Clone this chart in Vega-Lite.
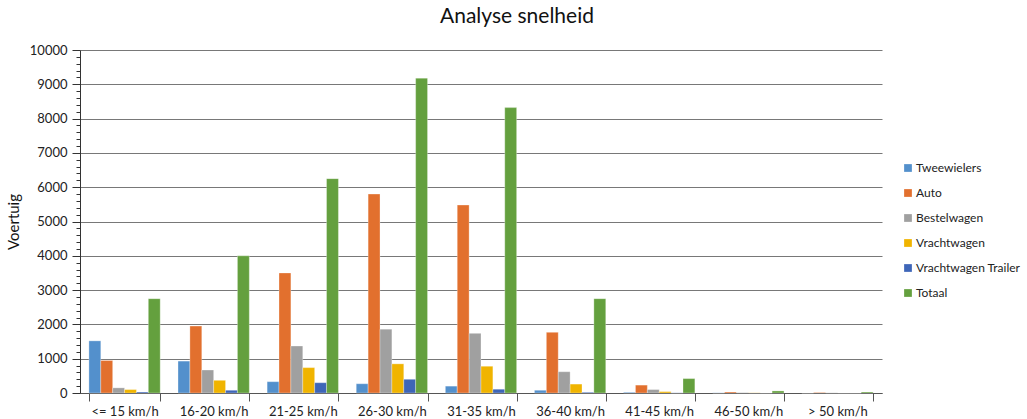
{
  "$schema": "https://vega.github.io/schema/vega-lite/v6.json",
  "autosize": {"type": "none"},
  "width": 802,
  "height": 343,
  "padding": {"left": 80, "top": 50, "right": 145, "bottom": 26},
  "background": "white",
  "title": {"text": "Analyse snelheid", "anchor": "middle", "dx": 36, "offset": 17, "fontSize": 21, "font": "Lato", "fontWeight": "normal", "color": "#111"},
  "config": {"view": {"stroke": null}, "font": "Lato"},
  "data": {"values": [
    {"cat": "<= 15 km/h", "type": "Tweewielers", "v": 1520},
    {"cat": "<= 15 km/h", "type": "Auto", "v": 950},
    {"cat": "<= 15 km/h", "type": "Bestelwagen", "v": 150},
    {"cat": "<= 15 km/h", "type": "Vrachtwagen", "v": 100},
    {"cat": "<= 15 km/h", "type": "Vrachtwagen Trailer", "v": 30},
    {"cat": "<= 15 km/h", "type": "Totaal", "v": 2750},
    {"cat": "16-20 km/h", "type": "Tweewielers", "v": 930},
    {"cat": "16-20 km/h", "type": "Auto", "v": 1950},
    {"cat": "16-20 km/h", "type": "Bestelwagen", "v": 670},
    {"cat": "16-20 km/h", "type": "Vrachtwagen", "v": 370},
    {"cat": "16-20 km/h", "type": "Vrachtwagen Trailer", "v": 80},
    {"cat": "16-20 km/h", "type": "Totaal", "v": 4000},
    {"cat": "21-25 km/h", "type": "Tweewielers", "v": 330},
    {"cat": "21-25 km/h", "type": "Auto", "v": 3500},
    {"cat": "21-25 km/h", "type": "Bestelwagen", "v": 1370},
    {"cat": "21-25 km/h", "type": "Vrachtwagen", "v": 740},
    {"cat": "21-25 km/h", "type": "Vrachtwagen Trailer", "v": 300},
    {"cat": "21-25 km/h", "type": "Totaal", "v": 6250},
    {"cat": "26-30 km/h", "type": "Tweewielers", "v": 270},
    {"cat": "26-30 km/h", "type": "Auto", "v": 5800},
    {"cat": "26-30 km/h", "type": "Bestelwagen", "v": 1860},
    {"cat": "26-30 km/h", "type": "Vrachtwagen", "v": 850},
    {"cat": "26-30 km/h", "type": "Vrachtwagen Trailer", "v": 400},
    {"cat": "26-30 km/h", "type": "Totaal", "v": 9180},
    {"cat": "31-35 km/h", "type": "Tweewielers", "v": 200},
    {"cat": "31-35 km/h", "type": "Auto", "v": 5480},
    {"cat": "31-35 km/h", "type": "Bestelwagen", "v": 1740},
    {"cat": "31-35 km/h", "type": "Vrachtwagen", "v": 780},
    {"cat": "31-35 km/h", "type": "Vrachtwagen Trailer", "v": 110},
    {"cat": "31-35 km/h", "type": "Totaal", "v": 8320},
    {"cat": "36-40 km/h", "type": "Tweewielers", "v": 80},
    {"cat": "36-40 km/h", "type": "Auto", "v": 1770},
    {"cat": "36-40 km/h", "type": "Bestelwagen", "v": 620},
    {"cat": "36-40 km/h", "type": "Vrachtwagen", "v": 260},
    {"cat": "36-40 km/h", "type": "Vrachtwagen Trailer", "v": 20},
    {"cat": "36-40 km/h", "type": "Totaal", "v": 2750},
    {"cat": "41-45 km/h", "type": "Tweewielers", "v": 20},
    {"cat": "41-45 km/h", "type": "Auto", "v": 230},
    {"cat": "41-45 km/h", "type": "Bestelwagen", "v": 100},
    {"cat": "41-45 km/h", "type": "Vrachtwagen", "v": 40},
    {"cat": "41-45 km/h", "type": "Vrachtwagen Trailer", "v": 5},
    {"cat": "41-45 km/h", "type": "Totaal", "v": 420},
    {"cat": "46-50 km/h", "type": "Tweewielers", "v": 5},
    {"cat": "46-50 km/h", "type": "Auto", "v": 30},
    {"cat": "46-50 km/h", "type": "Bestelwagen", "v": 10},
    {"cat": "46-50 km/h", "type": "Vrachtwagen", "v": 5},
    {"cat": "46-50 km/h", "type": "Vrachtwagen Trailer", "v": 0},
    {"cat": "46-50 km/h", "type": "Totaal", "v": 60},
    {"cat": "> 50 km/h", "type": "Tweewielers", "v": 0},
    {"cat": "> 50 km/h", "type": "Auto", "v": 15},
    {"cat": "> 50 km/h", "type": "Bestelwagen", "v": 5},
    {"cat": "> 50 km/h", "type": "Vrachtwagen", "v": 0},
    {"cat": "> 50 km/h", "type": "Vrachtwagen Trailer", "v": 0},
    {"cat": "> 50 km/h", "type": "Totaal", "v": 30}
  ]},
  "mark": {"type": "bar", "stroke": "white", "strokeWidth": 0.5, "strokeOpacity": 0.6},
  "encoding": {
    "x": {"field": "cat", "type": "nominal", "sort": null,
      "scale": {"paddingInner": 0.2, "paddingOuter": 0.1},
      "axis": {"title": null, "labelAngle": 0, "tickBand": "extent", "domainColor": "#555", "tickColor": "#555", "tickSize": 8, "labelFontSize": 13, "labelColor": "#222", "labelPadding": 4}},
    "xOffset": {"field": "type", "type": "nominal", "sort": ["Tweewielers", "Auto", "Bestelwagen", "Vrachtwagen", "Vrachtwagen Trailer", "Totaal"], "scale": {"paddingInner": 0}},
    "y": {"field": "v", "type": "quantitative", "scale": {"domain": [0, 10000], "nice": false},
      "axis": {"title": "Voertuig", "titleFontSize": 15, "titleFontWeight": "normal", "titleColor": "#111", "titlePadding": 8,
        "values": [0,200,400,600,800,1000,1200,1400,1600,1800,2000,2200,2400,2600,2800,3000,3200,3400,3600,3800,4000,4200,4400,4600,4800,5000,5200,5400,5600,5800,6000,6200,6400,6600,6800,7000,7200,7400,7600,7800,8000,8200,8400,8600,8800,9000,9200,9400,9600,9800,10000],
        "labelExpr": "datum.value % 1000 === 0 ? datum.value : ''",
        "labelFontSize": 13, "labelColor": "#222", "labelPadding": 5,
        "grid": true, "gridColor": "#555", "gridWidth": 0.8,
        "gridOpacity": {"condition": {"test": "datum.value % 1000 === 0", "value": 1}, "value": 0},
        "tickSize": {"condition": {"test": "datum.value % 1000 === 0", "value": 8}, "value": 4},
        "tickColor": "#333", "domainColor": "#333"}},
    "color": {"field": "type", "type": "nominal", "sort": ["Tweewielers", "Auto", "Bestelwagen", "Vrachtwagen", "Vrachtwagen Trailer", "Totaal"],
      "scale": {"domain": ["Tweewielers", "Auto", "Bestelwagen", "Vrachtwagen", "Vrachtwagen Trailer", "Totaal"], "range": ["#5390cc", "#e2702e", "#a0a0a0", "#f0b400", "#3e66b8", "#64a03e"]},
      "legend": {"title": null, "orient": "none", "legendX": 822, "legendY": 112, "symbolType": "square", "symbolSize": 60, "symbolStrokeWidth": 0, "rowPadding": 13, "labelFontSize": 12, "labelLimit": 200, "labelOffset": 2, "labelColor": "#222"}}
  }
}
